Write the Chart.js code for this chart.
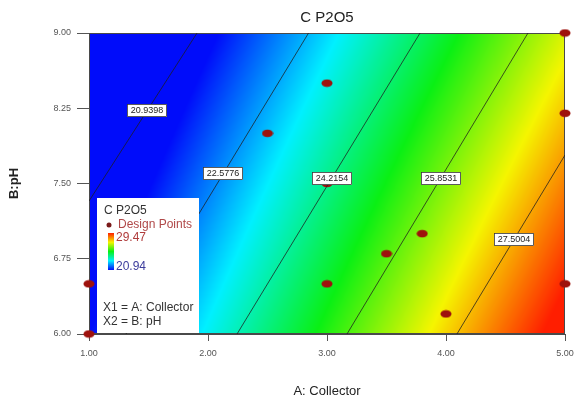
<!DOCTYPE html>
<html>
<head>
<meta charset="utf-8">
<script src="https://cdn.jsdelivr.net/npm/chart.js@4.4.1/dist/chart.umd.min.js"></script>
<style>
  html, body { margin: 0; padding: 0; background: #fff; }
  #wrap { width: 574px; height: 399px; position: relative; }
</style>
</head>
<body>
<div id="wrap"><canvas id="chart"></canvas></div>
<script>
const X_TICKS = [1, 2, 3, 4, 5];
const Y_TICKS = [6, 6.75, 7.5, 8.25, 9];

// contour levels and their end points (A, B)
const CONTOUR_LEVELS = ['20.9398', '22.5776', '24.2154', '25.8531', '27.5004'];
const CONTOUR_START = [
  { x: 1.0, y: 7.325 }, { x: 1.311, y: 6 }, { x: 2.244, y: 6 }, { x: 3.168, y: 6 }, { x: 4.092, y: 6 },
];
const CONTOUR_END = [
  { x: 1.908, y: 9 }, { x: 2.845, y: 9 }, { x: 3.782, y: 9 }, { x: 4.689, y: 9 }, { x: 5, y: 7.784 },
];
const CONTOUR_LABEL_B = [8.23, 7.6, 7.555, 7.555, 6.95];

// design points
const DESIGN_A = [3, 2.5, 3, 3.8, 3.5, 3, 4, 5, 5, 5, 1, 1];
const DESIGN_B = [8.5, 8.0, 7.5, 7.0, 6.8, 6.5, 6.2, 9, 8.2, 6.5, 6.5, 6];

// shaded response at the four corners of the design space (rows: B = 6, B = 9)
const CORNER_A = [1, 5];
const CORNER_B = [6, 9];
const CORNER_Z = [[20.94, 29.9], [18.64, 27.08]];
const Z_RANGE = [20.94, 29.47];

const FONT = '"Liberation Sans", Arial, sans-serif';

const COLOR_STOPS = [
  [0, [0, 12, 250]],
  [0.25, [0, 240, 255]],
  [0.5, [10, 240, 20]],
  [0.75, [245, 245, 0]],
  [1, [255, 30, 0]],
];

function colorFor(t) {
  t = Math.max(0, Math.min(1, t));
  for (let i = 1; i < COLOR_STOPS.length; i += 1) {
    const [t1, c1] = COLOR_STOPS[i];
    const [t0, c0] = COLOR_STOPS[i - 1];
    if (t <= t1) {
      const f = (t - t0) / (t1 - t0);
      return c0.map((c, k) => Math.round(c + (c1[k] - c) * f));
    }
  }
  return COLOR_STOPS[COLOR_STOPS.length - 1][1];
}

function surfaceAt(a, b) {
  const u = (a - CORNER_A[0]) / (CORNER_A[1] - CORNER_A[0]);
  const v = (b - CORNER_B[0]) / (CORNER_B[1] - CORNER_B[0]);
  const bottom = CORNER_Z[0][0] * (1 - u) + CORNER_Z[0][1] * u;
  const top = CORNER_Z[1][0] * (1 - u) + CORNER_Z[1][1] * u;
  return bottom * (1 - v) + top * v;
}

function makePointImage() {
  const c = document.createElement('canvas');
  c.width = 12;
  c.height = 9;
  const g = c.getContext('2d');
  g.fillStyle = '#9e120d';
  g.beginPath();
  g.ellipse(6, 4.5, 5.5, 3.8, 0, 0, Math.PI * 2);
  g.fill();
  return c;
}

const surfacePlugin = {
  id: 'surface',
  beforeDatasetsDraw(chart) {
    const { ctx, chartArea: area, scales: { x, y } } = chart;
    const w = Math.round(area.right - area.left);
    const h = Math.round(area.bottom - area.top);
    const off = document.createElement('canvas');
    off.width = w;
    off.height = h;
    const octx = off.getContext('2d');
    const img = octx.createImageData(w, h);
    for (let j = 0; j < h; j += 1) {
      const b = y.getValueForPixel(area.top + j + 0.5);
      for (let i = 0; i < w; i += 1) {
        const a = x.getValueForPixel(area.left + i + 0.5);
        const z = surfaceAt(a, b);
        const [r, g, bl] = colorFor((z - Z_RANGE[0]) / (Z_RANGE[1] - Z_RANGE[0]));
        const k = (j * w + i) * 4;
        img.data[k] = r;
        img.data[k + 1] = g;
        img.data[k + 2] = bl;
        img.data[k + 3] = 255;
      }
    }
    octx.putImageData(img, 0, 0);
    ctx.drawImage(off, area.left, area.top);
    ctx.save();
    ctx.strokeStyle = '#4a4a4a';
    ctx.lineWidth = 1;
    ctx.strokeRect(area.left + 0.5, area.top + 0.5, w - 1, h - 1);
    ctx.restore();
  },
  afterDatasetsDraw(chart) {
    const { ctx, scales: { x, y } } = chart;
    ctx.save();
    ctx.font = `9px ${FONT}`;
    ctx.textAlign = 'center';
    ctx.textBaseline = 'middle';
    CONTOUR_LEVELS.forEach((label, i) => {
      const s = CONTOUR_START[i];
      const e = CONTOUR_END[i];
      const b = CONTOUR_LABEL_B[i];
      const t = (b - s.y) / (e.y - s.y);
      const a = s.x + t * (e.x - s.x);
      const px = Math.round(x.getPixelForValue(a));
      const py = Math.round(y.getPixelForValue(b));
      const tw = Math.ceil(ctx.measureText(label).width) + 7;
      ctx.fillStyle = '#ffffff';
      ctx.fillRect(px - tw / 2, py - 6, tw, 13);
      ctx.strokeStyle = '#333';
      ctx.lineWidth = 0.8;
      ctx.strokeRect(px - tw / 2 + 0.5, py - 6 + 0.5, tw - 1, 12);
      ctx.fillStyle = '#222';
      ctx.fillText(label, px, py + 1);
    });
    ctx.restore();
  },
  afterDraw(chart) {
    const { ctx, chartArea: area } = chart;
    ctx.save();
    // title
    ctx.fillStyle = '#222';
    ctx.font = `15px ${FONT}`;
    ctx.textAlign = 'center';
    ctx.textBaseline = 'middle';
    ctx.fillText('C P2O5', (area.left + area.right) / 2, 18);

    // legend box
    const lx = 97;
    const ly = 198;
    ctx.fillStyle = '#ffffff';
    ctx.fillRect(lx, ly, 102, 135);
    ctx.textAlign = 'left';
    ctx.font = `12px ${FONT}`;
    ctx.fillStyle = '#333';
    ctx.fillText('C P2O5', lx + 7, ly + 13);
    ctx.fillStyle = '#7a1a1a';
    ctx.beginPath();
    ctx.arc(lx + 12, ly + 27, 2.5, 0, Math.PI * 2);
    ctx.fill();
    ctx.fillStyle = '#b04848';
    ctx.fillText('Design Points', lx + 21, ly + 27);
    const grad = ctx.createLinearGradient(0, ly + 35, 0, ly + 72);
    COLOR_STOPS.forEach(([t, c]) => grad.addColorStop(1 - t, `rgb(${c[0]},${c[1]},${c[2]})`));
    ctx.fillStyle = grad;
    ctx.fillRect(lx + 11, ly + 35, 6, 37);
    ctx.fillStyle = '#b03c3c';
    ctx.fillText(Z_RANGE[1].toFixed(2), lx + 19, ly + 40);
    ctx.fillStyle = '#3c3c9c';
    ctx.fillText(Z_RANGE[0].toFixed(2), lx + 19, ly + 69);
    ctx.fillStyle = '#333';
    ctx.fillText('X1 = A: Collector', lx + 6, ly + 110);
    ctx.fillText('X2 = B: pH', lx + 6, ly + 124);
    ctx.restore();
  },
};

const contourDatasets = CONTOUR_LEVELS.map((level, i) => ({
  label: level,
  data: [CONTOUR_START[i], CONTOUR_END[i]],
  showLine: true,
  borderColor: 'rgba(30, 30, 30, 0.85)',
  borderWidth: 0.9,
  pointRadius: 0,
  pointHoverRadius: 0,
}));

new Chart(document.getElementById('chart'), {
  type: 'scatter',
  data: {
    datasets: [
      ...contourDatasets,
      {
        label: 'Design Points',
        data: DESIGN_A.map((a, i) => ({ x: a, y: DESIGN_B[i] })),
        pointStyle: makePointImage(),
        pointRadius: 5,
        clip: false,
      },
    ],
  },
  options: {
    responsive: true,
    maintainAspectRatio: false,
    animation: false,
    events: [],
    layout: { padding: { top: 33, right: 0, left: 0, bottom: 0 } },
    plugins: {
      legend: { display: false },
      tooltip: { enabled: false },
      title: { display: false },
    },
    scales: {
      x: {
        type: 'linear',
        min: 1,
        max: 5,
        afterBuildTicks: (scale) => { scale.ticks = X_TICKS.map((v) => ({ value: v })); },
        afterFit: (scale) => { scale.height = 65; scale.paddingRight = 9; },
        grid: { drawOnChartArea: false, tickLength: 7, color: '#555' },
        border: { color: '#4a4a4a' },
        ticks: {
          color: '#555',
          font: { size: 9, family: FONT },
          padding: 7,
          maxRotation: 0,
          callback: (v) => Number(v).toFixed(2),
        },
        title: {
          display: true,
          text: 'A: Collector',
          color: '#222',
          font: { size: 13, family: FONT },
          padding: { top: 0, bottom: 0 },
        },
      },
      y: {
        type: 'linear',
        min: 6,
        max: 9,
        afterBuildTicks: (scale) => { scale.ticks = Y_TICKS.map((v) => ({ value: v })); },
        afterFit: (scale) => { scale.width = 89; },
        grid: { drawOnChartArea: false, tickLength: 12, color: '#555' },
        border: { color: '#4a4a4a' },
        ticks: {
          color: '#555',
          font: { size: 9, family: FONT },
          padding: 6,
          callback: (v) => Number(v).toFixed(2),
        },
        title: {
          display: true,
          text: 'B:pH',
          color: '#222',
          font: { size: 13, weight: 'bold', family: FONT },
          padding: { top: 7, bottom: 0 },
        },
      },
    },
  },
  plugins: [surfacePlugin],
});
</script>
</body>
</html>
